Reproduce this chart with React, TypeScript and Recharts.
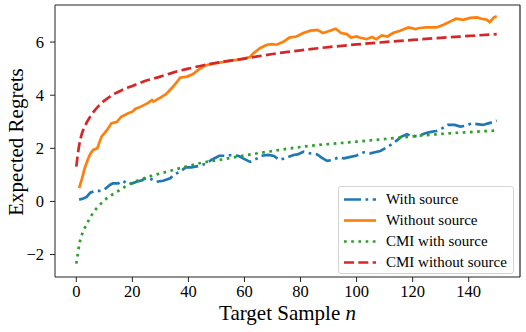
import React from "react";
import { LineChart, Line, XAxis, YAxis, Label, Legend } from "recharts";

// target sample index / value pairs
const withSourceN = [1, 2.5, 3.7, 5, 6.7, 8.5, 10, 12, 13, 15, 16.5, 18, 20, 21.5, 23.5, 25, 27, 28.5, 31, 33.5, 35, 37, 39, 41, 43.5, 46, 48.5, 51, 53, 55.5, 58, 59.5, 62, 64.5, 66, 68.5, 70.5, 72.5, 75, 77.5, 79, 81, 83.5, 86, 87.5, 89.5, 91.5, 93.5, 95.5, 97.5, 100, 102.5, 105, 106.5, 108.5, 110.5, 112.5, 114.5, 116, 118, 119.5, 122, 124.5, 127, 128.5, 130.5, 132.5, 135, 137, 139, 141, 143, 145, 147, 149, 150];
const withSourceY = [0.07, 0.11, 0.17, 0.33, 0.4, 0.4, 0.45, 0.62, 0.68, 0.68, 0.78, 0.68, 0.68, 0.74, 0.8, 0.89, 0.83, 0.74, 0.78, 0.87, 1.02, 1.12, 1.28, 1.28, 1.33, 1.41, 1.58, 1.72, 1.72, 1.75, 1.71, 1.62, 1.49, 1.62, 1.72, 1.75, 1.71, 1.56, 1.65, 1.75, 1.77, 1.87, 1.81, 1.77, 1.65, 1.53, 1.56, 1.66, 1.62, 1.67, 1.73, 1.85, 1.81, 1.85, 1.9, 2.02, 2.15, 2.31, 2.44, 2.53, 2.46, 2.46, 2.57, 2.63, 2.65, 2.75, 2.88, 2.88, 2.82, 2.85, 2.94, 2.91, 2.88, 2.94, 3.0, 3.05];

const withoutSourceN = [1, 2, 3, 4, 5, 6, 7.5, 9, 11, 12.5, 14.5, 16, 18.5, 20, 21, 23, 25.5, 27, 27.5, 30, 32, 34, 36, 37, 39.5, 41.5, 43.5, 46, 48, 50, 53, 56, 59, 62, 63, 65.5, 68, 70, 71.5, 74, 76, 78.5, 81, 83.5, 86, 88, 90.5, 92.5, 94.5, 96.5, 98, 100, 101, 103.5, 105.5, 107, 109, 111, 113, 115.5, 118.5, 121, 122.5, 125, 128.5, 131, 133.5, 135.5, 138, 140.5, 143, 144.5, 146.5, 147.5, 149, 150];
const withoutSourceY = [0.5, 0.85, 1.25, 1.55, 1.8, 1.94, 2.0, 2.44, 2.69, 2.94, 3.0, 3.19, 3.32, 3.38, 3.48, 3.57, 3.7, 3.82, 3.76, 3.91, 4.04, 4.26, 4.51, 4.66, 4.7, 4.79, 4.95, 5.12, 5.17, 5.21, 5.26, 5.31, 5.36, 5.44, 5.56, 5.77, 5.9, 5.92, 5.9, 6.02, 6.17, 6.21, 6.34, 6.43, 6.46, 6.34, 6.43, 6.5, 6.34, 6.3, 6.17, 6.21, 6.17, 6.11, 6.19, 6.11, 6.25, 6.21, 6.34, 6.43, 6.55, 6.49, 6.53, 6.55, 6.55, 6.65, 6.78, 6.88, 6.84, 6.91, 6.93, 6.88, 6.84, 6.75, 6.93, 6.97];

const cmiWithN = [0, 0.5, 1, 1.5, 2, 3, 4, 5, 6, 7, 8, 10, 12, 14, 16, 18, 20, 23, 27, 32, 38, 45, 52, 60, 70, 80, 90, 100, 110, 120, 130, 140, 150];
const cmiWithY = [-2.34, -2.0, -1.65, -1.42, -1.25, -1.0, -0.79, -0.6, -0.43, -0.29, -0.17, 0.04, 0.2, 0.33, 0.46, 0.59, 0.7, 0.83, 0.97, 1.11, 1.28, 1.46, 1.58, 1.73, 1.9, 2.05, 2.16, 2.25, 2.35, 2.45, 2.54, 2.61, 2.67];

const cmiWithoutN = [0, 1, 2, 3, 5, 8, 12, 16, 20, 25, 30, 35, 40, 45, 50, 60, 70, 80, 90, 100, 110, 120, 130, 140, 150];
const cmiWithoutY = [1.31, 2.1, 2.55, 2.82, 3.2, 3.6, 3.95, 4.18, 4.35, 4.55, 4.7, 4.87, 5.0, 5.12, 5.22, 5.38, 5.55, 5.69, 5.81, 5.91, 6.0, 6.08, 6.16, 6.23, 6.3];

const xTicks = [0, 20, 40, 60, 80, 100, 120, 140];
const yTicks = [-2, 0, 2, 4, 6];
const xDomain = [-7.6, 158.3];
const yDomain = [-2.845, 7.396];

const FONT = '"Liberation Serif", "Times New Roman", serif';
const LW = 2.7;
const SPINE = "#222";
const W = 526;
const H = 332;
const MARGIN = { top: 4, right: 5, left: 0, bottom: 0 };
const Y_AXIS_W = 55;
const X_AXIS_H = 55;

const toRows = (n: number[], y: number[]) => n.map((v, i) => ({ n: v, y: y[i] }));

// the red curve sits on the top/right axes (same domains) so those axes are in use and draw the frame
const series = [
  { name: "With source", color: "#1f77b4", dash: "17 4.5 2.7 4.5", data: toRows(withSourceN, withSourceY), curve: "linear", xId: 0, yId: 0 },
  { name: "Without source", color: "#ff7f0e", dash: undefined, data: toRows(withoutSourceN, withoutSourceY), curve: "linear", xId: 0, yId: 0 },
  { name: "CMI with source", color: "#2ca02c", dash: "2.7 4.5", data: toRows(cmiWithN, cmiWithY), curve: "monotone", xId: 0, yId: 0 },
  { name: "CMI without source", color: "#d62728", dash: "10 4.3", data: toRows(cmiWithoutN, cmiWithoutY), curve: "monotone", xId: "top", yId: "right" },
];

const minus = (v: number) => String(v).replace("-", "\u2212");

function XTick({ x, y, payload }: any) {
  return (
    <text x={x} y={y} dy="0.7em" textAnchor="middle" fontFamily={FONT} fontSize={16.5} fill="#000">
      {minus(payload.value)}
    </text>
  );
}

function YTick({ x, y, payload }: any) {
  return (
    <text x={x} y={y} dy="0.33em" textAnchor="end" fontFamily={FONT} fontSize={16.5} fill="#000">
      {minus(payload.value)}
    </text>
  );
}

function LegendBox() {
  return (
    <div
      style={{
        width: 174,
        height: 84,
        border: "1px solid #d4d4d4",
        borderRadius: 3,
        background: "rgba(255,255,255,0.85)",
        fontFamily: FONT,
        fontSize: 15,
        color: "#000",
        paddingTop: 2,
        boxSizing: "content-box",
      }}
    >
      {series.map((s) => (
        <div key={s.name} style={{ display: "flex", alignItems: "center", height: 21 }}>
          <svg width={32} height={21} style={{ marginLeft: 5, marginRight: 10, flex: "none" }}>
            <line x1={0} x2={32} y1={10.5} y2={10.5} stroke={s.color} strokeWidth={LW} strokeDasharray={s.dash} />
          </svg>
          <span style={{ lineHeight: "21px", whiteSpace: "nowrap" }}>{s.name}</span>
        </div>
      ))}
    </div>
  );
}

function XTitle(props: any) {
  const vb = props.viewBox || { x: 55, width: 465 };
  return (
    <text x={vb.x + vb.width / 2} y={320} textAnchor="middle" fontFamily={FONT} fontSize={21} fill="#000">
      Target Sample <tspan fontStyle="italic">n</tspan>
    </text>
  );
}

function YTitle(props: any) {
  const vb = props.viewBox || { y: 5, height: 272 };
  const cy = vb.y + vb.height / 2 + 1;
  return (
    <text x={23} y={cy} transform={`rotate(-90, 23, ${cy})`} textAnchor="middle" fontFamily={FONT} fontSize={21} fill="#000">
      Expected Regrets
    </text>
  );
}

export default function App() {
  return (
    <div style={{ width: W, height: H, background: "#fff", fontFamily: FONT }}>
      <style>{"body{margin:0}"}</style>
      <LineChart width={W} height={H} margin={MARGIN}>
        <XAxis
          dataKey="n"
          type="number"
          domain={xDomain}
          ticks={xTicks}
          allowDataOverflow
          height={X_AXIS_H}
          tick={<XTick />}
          tickSize={5}
          tickMargin={3}
          stroke={SPINE}
          tickLine={{ stroke: SPINE }}
        >
          <Label content={XTitle} />
        </XAxis>
        <XAxis
          xAxisId="top"
          orientation="top"
          dataKey="n"
          type="number"
          domain={xDomain}
          allowDataOverflow
          height={1}
          tick={false}
          tickLine={false}
          axisLine={{ stroke: SPINE, strokeWidth: 1.2 }}
        />
        <YAxis
          type="number"
          domain={yDomain}
          ticks={yTicks}
          allowDataOverflow
          width={Y_AXIS_W}
          tick={<YTick />}
          tickSize={5}
          tickMargin={6}
          stroke={SPINE}
          tickLine={{ stroke: SPINE }}
        >
          <Label content={YTitle} />
        </YAxis>
        <YAxis
          yAxisId="right"
          orientation="right"
          type="number"
          domain={yDomain}
          allowDataOverflow
          width={1}
          tick={false}
          tickLine={false}
          axisLine={{ stroke: SPINE, strokeWidth: 1.2 }}
        />
        {series.map((s) => (
          <Line
            key={s.name}
            data={s.data}
            dataKey="y"
            name={s.name}
            xAxisId={s.xId}
            yAxisId={s.yId}
            type={s.curve as any}
            stroke={s.color}
            strokeWidth={LW}
            strokeDasharray={s.dash}
            dot={false}
            activeDot={false}
            isAnimationActive={false}
          />
        ))}
        <Legend
          layout="horizontal"
          align="center"
          verticalAlign="middle"
          content={() => <LegendBox />}
          wrapperStyle={{ left: 338, top: 186, width: 176, height: 88, bottom: "auto", right: "auto" }}
        />
      </LineChart>
    </div>
  );
}
